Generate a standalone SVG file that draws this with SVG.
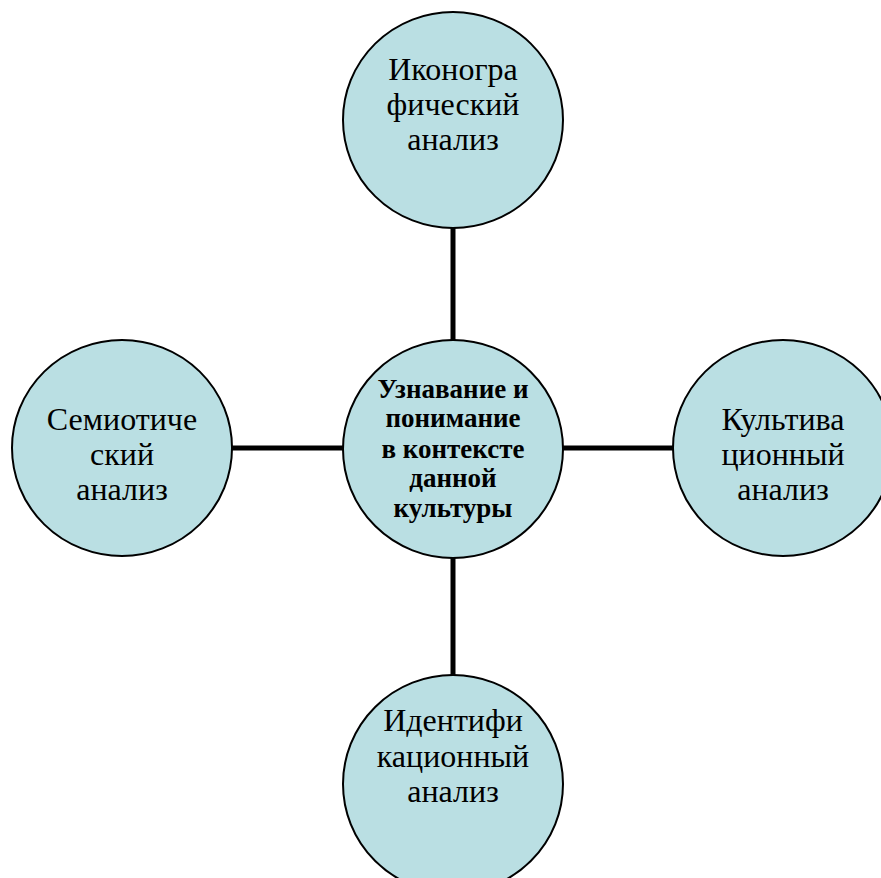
<svg xmlns="http://www.w3.org/2000/svg" width="881" height="878" viewBox="0 0 881 878">
<style>
.node{fill:#BADFE3;stroke:#000;stroke-width:2}
.t{font-family:"Liberation Serif","Times New Roman",serif;font-size:32px;fill:#000;text-anchor:middle}
.b{font-family:"Liberation Serif","Times New Roman",serif;font-size:27px;font-weight:bold;fill:#000;text-anchor:middle}
.c{stroke:#000;stroke-width:5;fill:none}
</style>
<rect width="881" height="878" fill="#fff"/>
<g id="connectors">
<line class="c" x1="453" y1="228" x2="453" y2="340"/>
<line class="c" x1="232" y1="448" x2="344" y2="448"/>
<line class="c" x1="562" y1="448" x2="674" y2="448"/>
<line class="c" x1="453" y1="557" x2="453" y2="675"/>
</g>
<g id="top">
<ellipse class="node" cx="453" cy="120" rx="110" ry="108"/>
<text class="t" x="453" y="80">Иконогра</text>
<text class="t" x="453" y="115">фический</text>
<text class="t" x="453" y="150">анализ</text>
</g>
<g id="center">
<ellipse class="node" cx="453" cy="449" rx="110" ry="109"/>
<text class="b" x="453" y="398">Узнавание и</text>
<text class="b" x="453" y="427">понимание</text>
<text class="b" x="453" y="458">в контексте</text>
<text class="b" x="453" y="487">данной</text>
<text class="b" x="453" y="517">культуры</text>
</g>
<g id="left">
<ellipse class="node" cx="122" cy="448" rx="110" ry="108"/>
<text class="t" x="122" y="430">Семиотиче</text>
<text class="t" x="122" y="465">ский</text>
<text class="t" x="122" y="500">анализ</text>
</g>
<g id="right">
<ellipse class="node" cx="783" cy="448" rx="110" ry="108"/>
<text class="t" x="783" y="430">Культива</text>
<text class="t" x="783" y="465">ционный</text>
<text class="t" x="783" y="500">анализ</text>
</g>
<g id="bottom">
<ellipse class="node" cx="453" cy="784" rx="110" ry="109"/>
<text class="t" x="453" y="731">Идентифи</text>
<text class="t" x="453" y="767">кационный</text>
<text class="t" x="453" y="802">анализ</text>
</g>
</svg>
